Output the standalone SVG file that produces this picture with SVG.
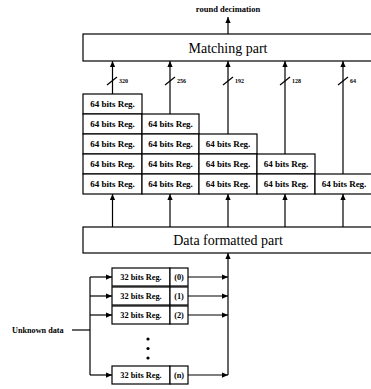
<svg xmlns="http://www.w3.org/2000/svg" width="371" height="389" viewBox="0 0 371 389">
<defs>
<marker id="ah" viewBox="0 0 8 8" refX="8" refY="4" markerWidth="6" markerHeight="6" markerUnits="userSpaceOnUse" orient="auto">
<path d="M0,0.5 L8,4 L0,7.5 Z" fill="#000"/>
</marker>
<style>
.box{fill:#fff;stroke:#000;stroke-width:1.2}
.ln{fill:none;stroke:#000;stroke-width:1.2}
.arr{fill:none;stroke:#000;stroke-width:1.2;marker-end:url(#ah)}
.reg{font-family:"Liberation Serif",serif;font-weight:bold;font-size:9px;text-anchor:middle}
.r32{font-family:"Liberation Serif",serif;font-weight:bold;font-size:8.3px;text-anchor:middle}
.big{font-family:"Liberation Serif",serif;font-size:14px;text-anchor:middle}
.sm{font-family:"Liberation Serif",serif;font-weight:bold;font-size:6px}
</style>
</defs>
<rect width="371" height="389" fill="#fff"/>
<g id="matching">
<rect class="box" x="83" y="34" width="292" height="27"/>
<text class="big" x="228" y="52.5">Matching part</text>
</g>
<text x="228" y="12" font-family="Liberation Serif,serif" font-weight="bold" font-size="8.5px" text-anchor="middle">round decimation</text>
<g id="data-formatted">
<rect class="box" x="83" y="227" width="292" height="26"/>
<text class="big" x="228" y="245">Data formatted part</text>
</g>
<g id="regs64">
<rect class="box" x="83" y="94" width="59" height="20"/><text class="reg" x="112.5" y="107">64 bits Reg.</text>
<rect class="box" x="83" y="114" width="59" height="20"/><text class="reg" x="112.5" y="127">64 bits Reg.</text>
<rect class="box" x="83" y="134" width="59" height="20"/><text class="reg" x="112.5" y="147">64 bits Reg.</text>
<rect class="box" x="83" y="154" width="59" height="20"/><text class="reg" x="112.5" y="167">64 bits Reg.</text>
<rect class="box" x="83" y="174" width="59" height="20"/><text class="reg" x="112.5" y="187">64 bits Reg.</text>
<rect class="box" x="142" y="114" width="57" height="20"/><text class="reg" x="170.5" y="127">64 bits Reg.</text>
<rect class="box" x="142" y="134" width="57" height="20"/><text class="reg" x="170.5" y="147">64 bits Reg.</text>
<rect class="box" x="142" y="154" width="57" height="20"/><text class="reg" x="170.5" y="167">64 bits Reg.</text>
<rect class="box" x="142" y="174" width="57" height="20"/><text class="reg" x="170.5" y="187">64 bits Reg.</text>
<rect class="box" x="199" y="134" width="58" height="20"/><text class="reg" x="228" y="147">64 bits Reg.</text>
<rect class="box" x="199" y="154" width="58" height="20"/><text class="reg" x="228" y="167">64 bits Reg.</text>
<rect class="box" x="199" y="174" width="58" height="20"/><text class="reg" x="228" y="187">64 bits Reg.</text>
<rect class="box" x="257" y="154" width="58" height="20"/><text class="reg" x="286" y="167">64 bits Reg.</text>
<rect class="box" x="257" y="174" width="58" height="20"/><text class="reg" x="286" y="187">64 bits Reg.</text>
<rect class="box" x="315" y="174" width="60" height="20"/><text class="reg" x="344" y="187">64 bits Reg.</text>
</g>
<g id="regs32">
<rect class="box" x="112" y="268" width="58" height="18"/><rect class="box" x="170" y="268" width="18" height="18"/>
<text class="r32" x="141" y="280">32 bits Reg.</text><text class="r32" x="179" y="280">(0)</text>
<rect class="box" x="112" y="287" width="58" height="18"/><rect class="box" x="170" y="287" width="18" height="18"/>
<text class="r32" x="141" y="299">32 bits Reg.</text><text class="r32" x="179" y="299">(1)</text>
<rect class="box" x="112" y="306" width="58" height="18"/><rect class="box" x="170" y="306" width="18" height="18"/>
<text class="r32" x="141" y="318">32 bits Reg.</text><text class="r32" x="179" y="318">(2)</text>
<rect class="box" x="112" y="366" width="58" height="18"/><rect class="box" x="170" y="366" width="18" height="18"/>
<text class="r32" x="141" y="378">32 bits Reg.</text><text class="r32" x="179" y="378">(n)</text>
<circle cx="148" cy="339" r="1.6"/><circle cx="148" cy="348.5" r="1.6"/><circle cx="148" cy="358" r="1.6"/>
</g>
<text x="12" y="333" font-family="Liberation Serif,serif" font-weight="bold" font-size="8.2px">Unknown data</text>
<g id="connectors">
<line class="arr" x1="228" y1="34" x2="228" y2="17"/>
<line class="arr" x1="112.5" y1="94" x2="112.5" y2="61"/>
<line class="arr" x1="170" y1="114" x2="170" y2="61"/>
<line class="arr" x1="228" y1="134" x2="228" y2="61"/>
<line class="arr" x1="285" y1="154" x2="285" y2="61"/>
<line class="arr" x1="343" y1="174" x2="343" y2="61"/>
<line class="ln" x1="107" y1="85" x2="117" y2="77"/>
<line class="ln" x1="165" y1="85" x2="175" y2="77"/>
<line class="ln" x1="223" y1="85" x2="233" y2="77"/>
<line class="ln" x1="280" y1="85" x2="290" y2="77"/>
<line class="ln" x1="338" y1="85" x2="348" y2="77"/>
<text class="sm" x="119" y="83">320</text>
<text class="sm" x="177" y="83">256</text>
<text class="sm" x="235" y="83">192</text>
<text class="sm" x="292" y="83">128</text>
<text class="sm" x="350" y="83">64</text>
<line class="arr" x1="112.5" y1="227" x2="112.5" y2="194"/>
<line class="arr" x1="170" y1="227" x2="170" y2="194"/>
<line class="arr" x1="228" y1="227" x2="228" y2="194"/>
<line class="arr" x1="285" y1="227" x2="285" y2="194"/>
<line class="arr" x1="343" y1="227" x2="343" y2="194"/>
<line class="ln" x1="72" y1="330" x2="90" y2="330"/>
<line class="ln" x1="90" y1="277" x2="90" y2="375"/>
<line class="arr" x1="90" y1="277" x2="112" y2="277"/>
<line class="arr" x1="90" y1="296" x2="112" y2="296"/>
<line class="arr" x1="90" y1="315" x2="112" y2="315"/>
<line class="arr" x1="90" y1="375" x2="112" y2="375"/>
<line class="arr" x1="188" y1="277" x2="228" y2="277"/>
<line class="arr" x1="188" y1="296" x2="228" y2="296"/>
<line class="arr" x1="188" y1="315" x2="228" y2="315"/>
<line class="arr" x1="188" y1="375" x2="228" y2="375"/>
<line class="arr" x1="228" y1="375" x2="228" y2="253"/>
</g>
</svg>
